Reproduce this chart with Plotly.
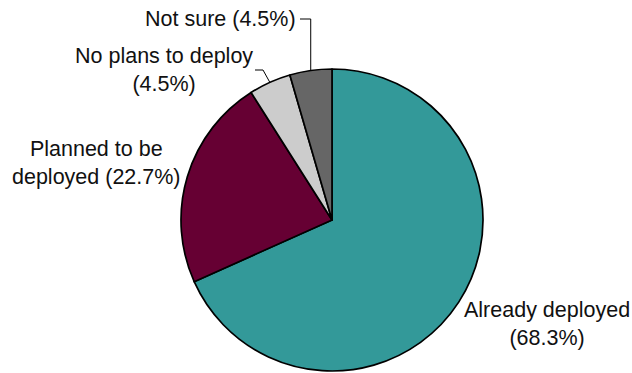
import math
import plotly.graph_objects as go

# Deployment status shares (percent)
categories = ["Already deployed", "Planned to be deployed", "No plans to deploy", "Not sure"]
values = [68.3, 22.7, 4.5, 4.5]
colors = ["#339999", "#660033", "#CCCCCC", "#666666"]
label_texts = [
    "Already deployed<br>(68.3%)",
    "Planned to be<br>deployed (22.7%)",
    "No plans to deploy<br>(4.5%)",
    "Not sure (4.5%)",
]

W, H = 632, 373
cx, cy, r = 332, 220, 151  # pie centre and radius in pixels

fig = go.Figure(
    go.Pie(
        labels=categories,
        values=values,
        marker=dict(colors=colors, line=dict(color="#000000", width=1.7)),
        sort=False,
        direction="clockwise",
        rotation=0,
        textinfo="none",
        domain=dict(x=[(cx - r) / W, (cx + r) / W], y=[(H - cy - r) / H, (H - cy + r) / H]),
        showlegend=False,
    )
)


def px_to_paper(x, y):
    return x / W, (H - y) / H


def edge_point(index):
    """Point on the rim at the mid-angle of a slice (clockwise from 12 o'clock)."""
    total = sum(values)
    start = sum(values[:index])
    mid = (start + values[index] / 2) / total * 2 * math.pi
    return cx + r * math.sin(mid), cy - r * math.cos(mid)


font = dict(family="Liberation Sans, Arial, sans-serif", size=21.5, color="#111111")

# label placements in pixels: (x, y)
placements = [
    (547, 324),
    (96, 163),
    (164, 70),
    (221, 19),
]
annotations = []
for txt, (x, y) in zip(label_texts, placements):
    px, py = px_to_paper(x, y)
    annotations.append(
        dict(x=px, y=py, xref="paper", yref="paper", text=txt, showarrow=False,
             font=font, xanchor="center", yanchor="middle", align="center")
    )

# leader lines for the two small slices
shapes = []
line_style = dict(color="#000000", width=1)
ex, ey = edge_point(3)
for (x0, y0), (x1, y1) in [((300, 19), (ex, 19)), ((ex, 19), (ex, ey))]:
    a, b = px_to_paper(x0, y0)
    c, d = px_to_paper(x1, y1)
    shapes.append(dict(type="line", xref="paper", yref="paper", x0=a, y0=b, x1=c, y1=d, line=line_style))
ex, ey = edge_point(2)
for (x0, y0), (x1, y1) in [((255, 70), (263, 70)), ((263, 70), (ex, ey))]:
    a, b = px_to_paper(x0, y0)
    c, d = px_to_paper(x1, y1)
    shapes.append(dict(type="line", xref="paper", yref="paper", x0=a, y0=b, x1=c, y1=d, line=line_style))

fig.update_layout(
    width=W,
    height=H,
    margin=dict(l=0, r=0, t=0, b=0),
    paper_bgcolor="white",
    plot_bgcolor="white",
    annotations=annotations,
    shapes=shapes,
)

fig.write_html("out.html")
